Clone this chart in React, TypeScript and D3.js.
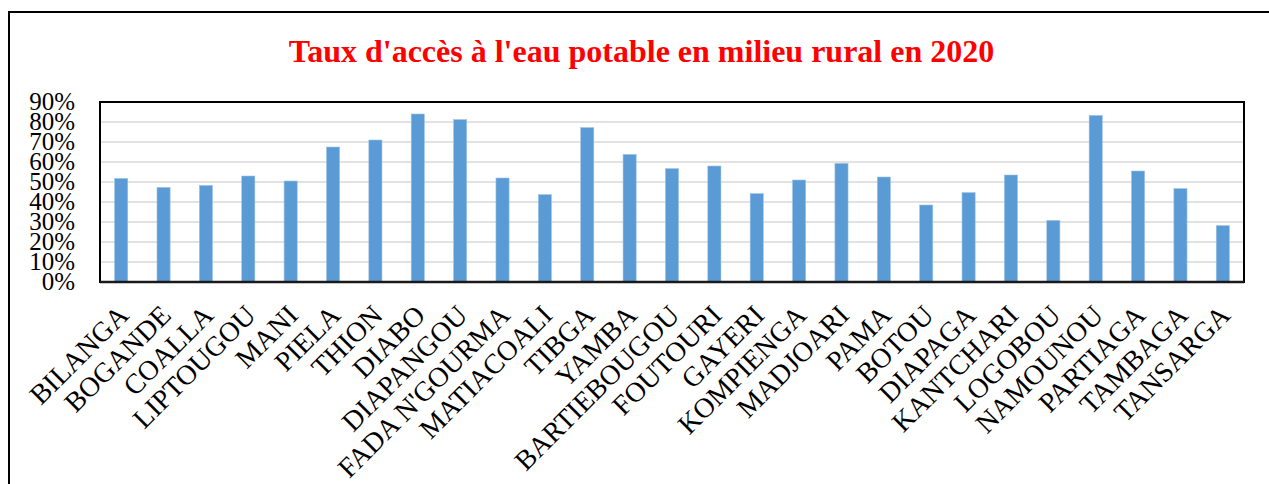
import React from 'react';
import * as d3 from 'd3';

const communes = [
  'BILANGA', 'BOGANDE', 'COALLA', 'LIPTOUGOU', 'MANI', 'PIELA', 'THION', 'DIABO',
  'DIAPANGOU', "FADA N'GOURMA", 'MATIACOALI', 'TIBGA', 'YAMBA', 'BARTIEBOUGOU',
  'FOUTOURI', 'GAYERI', 'KOMPIENGA', 'MADJOARI', 'PAMA', 'BOTOU', 'DIAPAGA',
  'KANTCHARI', 'LOGOBOU', 'NAMOUNOU', 'PARTIAGA', 'TAMBAGA', 'TANSARGA',
];

// taux d'accès (%)
const taux = [
  51.8, 47.3, 48.3, 53, 50.5, 67.5, 71, 84, 81.2, 52, 43.7, 77.2, 63.8, 56.7,
  58, 44.2, 51, 59.3, 52.5, 38.5, 44.7, 53.5, 30.8, 83.3, 55.5, 46.7, 28.2,
];

const yTicks = [0, 10, 20, 30, 40, 50, 60, 70, 80, 90];

const title = "Taux d'accès à l'eau potable en milieu rural en 2020";

export default function App() {
  const width = 1269;
  const height = 484;
  const plot = { left: 100, top: 102, right: 1244, bottom: 282 };

  const x = d3.scaleBand<string>()
    .domain(communes)
    .range([plot.left, plot.right])
    .padding(0);

  const y = d3.scaleLinear()
    .domain([0, 90])
    .range([plot.bottom, plot.top]);

  const barW = x.bandwidth() * 0.31;
  const serif = '"Liberation Serif", "Times New Roman", serif';

  return (
    <svg
      width={width}
      height={height}
      style={{ position: 'absolute', left: 0, top: 0, background: '#fff' }}
    >
      {/* cadre extérieur */}
      <rect x={9} y={12} width={width} height={height} fill="#fff" stroke="#000" strokeWidth={2} />

      <text
        x={641.5}
        y={62}
        textAnchor="middle"
        fill="#ff0000"
        fontFamily={serif}
        fontWeight="bold"
        fontSize={32}
      >
        {title}
      </text>

      {/* grille */}
      {yTicks.slice(1).map(t => (
        <line
          key={t}
          x1={plot.left}
          x2={plot.right}
          y1={y(t)}
          y2={y(t)}
          stroke="#d9d9d9"
          strokeWidth={1.5}
        />
      ))}

      {/* barres */}
      {communes.map((c, i) => {
        const cx = (x(c) || 0) + x.bandwidth() / 2;
        return (
          <rect
            key={c}
            x={cx - barW / 2}
            y={y(taux[i])}
            width={barW}
            height={plot.bottom - y(taux[i])}
            fill="#5b9bd5"
            stroke="#9dc3e6"
            strokeWidth={0.6}
          />
        );
      })}

      <rect
        x={plot.left}
        y={plot.top}
        width={plot.right - plot.left}
        height={plot.bottom - plot.top}
        fill="none"
        stroke="#000"
        strokeWidth={2}
      />
      <line x1={plot.left} x2={plot.right} y1={plot.bottom} y2={plot.bottom} stroke="#1a1a1a" strokeWidth={2.5} />

      {/* axe Y */}
      {yTicks.map(t => (
        <text
          key={t}
          x={75}
          y={y(t) + 8}
          textAnchor="end"
          fontFamily={serif}
          fontSize={25}
          fill="#000"
        >
          {t}%
        </text>
      ))}

      {/* libellés X */}
      {communes.map(c => {
        const cx = (x(c) || 0) + x.bandwidth() / 2;
        return (
          <text
            key={c}
            transform={`translate(${cx + 9},${317}) rotate(-45)`}
            textAnchor="end"
            fontFamily={serif}
            fontSize={28}
            fill="#000"
          >
            {c}
          </text>
        );
      })}
    </svg>
  );
}
